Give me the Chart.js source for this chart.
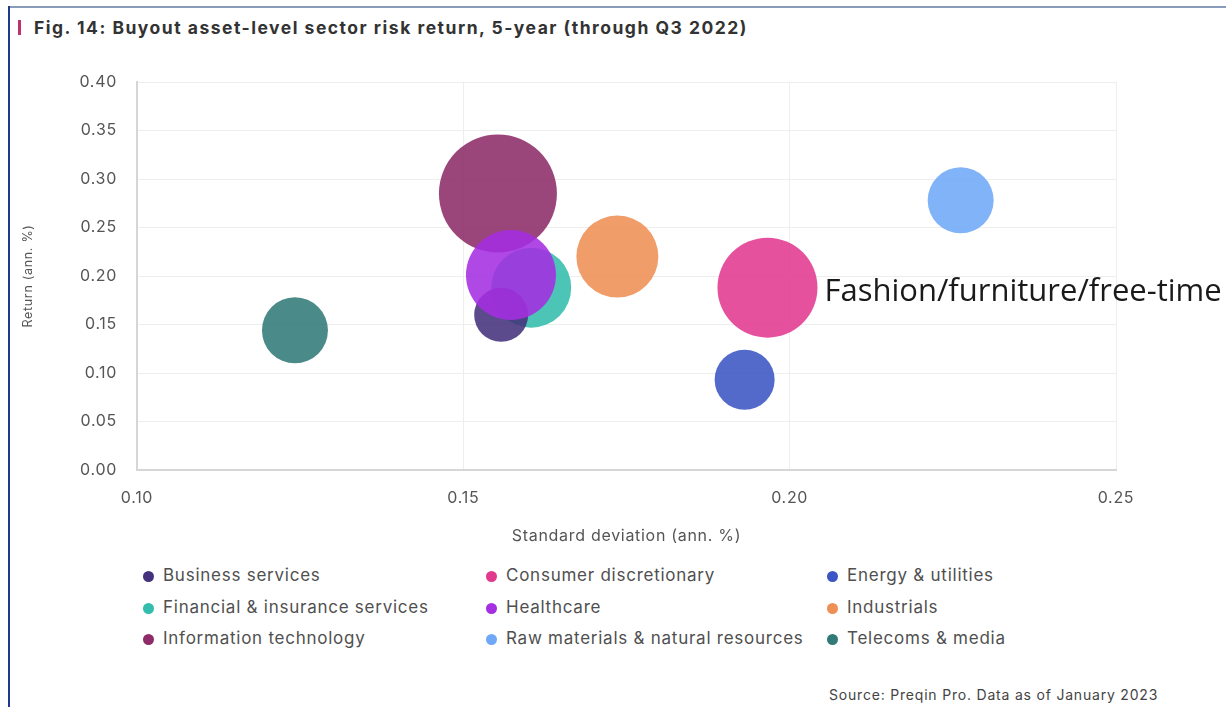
<!DOCTYPE html>
<html>
<head>
  <title>Buyout sector risk return</title>
  <script src="https://cdn.jsdelivr.net/npm/chart.js"></script>
  <style>
    body {
      margin: 0;
      width: 1226px;
      height: 707px;
      background: #fff;
      font-family: 'Inter', sans-serif;
      color: #444;
      overflow: hidden;
      position: relative;
    }

    .frame-top {
      position: absolute;
      left: 8px; right: 0; top: 6px;
      height: 2px;
      background: #8a9abb;
    }

    .frame-left {
      position: absolute;
      left: 8px; top: 6px; bottom: 0;
      width: 2px;
      background: #1f3a8a;
    }

    .title {
      position: absolute;
      left: 18px;
      top: 17px;
      font-size: 17.5px;
      font-weight: 700;
      letter-spacing: 1.5px;
      color: #333;
      white-space: nowrap;
    }

    .title .bar {
      display: inline-block;
      width: 3px;
      height: 15px;
      background: #c0306e;
      margin-right: 13px;
      vertical-align: -1px;
    }

    #chart-wrap {
      position: absolute;
      left: 0;
      top: 0;
      width: 1226px;
      height: 560px;
    }

    .legend {
      position: absolute;
      top: 563px;
      left: 143px;
    }

    .legend .item {
      position: absolute;
      white-space: nowrap;
      font-size: 17px;
      letter-spacing: 0.75px;
      color: #505050;
      line-height: 24px;
    }

    .legend .dot {
      display: inline-block;
      width: 11px;
      height: 11px;
      border-radius: 50%;
      margin-right: 9px;
      vertical-align: -1px;
    }

    .source {
      position: absolute;
      left: 829px;
      top: 686px;
      font-size: 14px;
      letter-spacing: 0.8px;
      color: #444;
      white-space: nowrap;
    }
  </style>
</head>
<body>
  <div class="frame-top"></div>
  <div class="frame-left"></div>
  <div class="title"><span class="bar"></span>Fig. 14: Buyout asset-level sector risk return, 5-year (through Q3 2022)</div>

  <div id="chart-wrap"><canvas id="chart" width="1226" height="560"></canvas></div>

  <div class="legend" id="legend"></div>
  <div class="source">Source: Preqin Pro. Data as of January 2023</div>

  <script>
    const sectors = [
      'Business services', 'Consumer discretionary', 'Energy & utilities',
      'Financial & insurance services', 'Healthcare', 'Industrials',
      'Information technology', 'Raw materials & natural resources', 'Telecoms & media'
    ];
    const stdDev = [0.1558, 0.1966, 0.1931, 0.1604, 0.1573, 0.1736, 0.1553, 0.2262, 0.1242];
    const returns = [0.160, 0.188, 0.093, 0.188, 0.201, 0.220, 0.285, 0.278, 0.144];
    const bubbleSize = [27, 50, 30, 40, 45, 41, 59, 33, 33];
    const colors = ['#45327c', '#e2398f', '#3b55c4', '#33bdac', '#a52fe2', '#ee8f55', '#8d2c68', '#70a8f8', '#317a78'];
    // lower value sits on top
    const layer = [2, 5, 5, 3, 1, 5, 4, 5, 5];

    const xTicks = [0.10, 0.15, 0.20, 0.25];
    const yTicks = [0.00, 0.05, 0.10, 0.15, 0.20, 0.25, 0.30, 0.35, 0.40];

    const calloutSector = 'Consumer discretionary';
    const calloutText = 'Fashion/furniture/free-time';

    const withAlpha = (hex, a) => {
      const n = parseInt(hex.slice(1), 16);
      return `rgba(${n >> 16}, ${(n >> 8) & 255}, ${n & 255}, ${a})`;
    };

    // legend, three columns filled row by row
    const legend = document.getElementById('legend');
    const colX = [0, 343, 684];
    const rowY = [0, 31.5, 63];
    sectors.forEach((name, i) => {
      const el = document.createElement('div');
      el.className = 'item';
      el.style.left = colX[i % 3] + 'px';
      el.style.top = rowY[Math.floor(i / 3)] + 'px';
      el.innerHTML = `<span class="dot" style="background:${colors[i]}"></span>${name}`;
      legend.appendChild(el);
    });

    // wider tracking for the axis text
    const spacing = {
      id: 'spacing',
      beforeDraw(chart) { chart.ctx.letterSpacing = '0.7px'; }
    };

    const callout = {
      id: 'callout',
      afterDatasetsDraw(chart) {
        const i = sectors.indexOf(calloutSector);
        const pt = chart.getDatasetMeta(i).data[0];
        const ctx = chart.ctx;
        ctx.save();
        ctx.letterSpacing = '0px';
        ctx.font = '31px "Open Sans", sans-serif';
        ctx.fillStyle = '#1a1a1a';
        ctx.textBaseline = 'middle';
        ctx.fillText(calloutText, pt.x + bubbleSize[i] + 7, pt.y + 5);
        ctx.restore();
      }
    };

    const tickFont = { family: 'Inter', size: 16 };

    new Chart(document.getElementById('chart'), {
      type: 'bubble',
      data: {
        datasets: sectors.map((name, i) => ({
          label: name,
          data: [{ x: stdDev[i], y: returns[i], r: bubbleSize[i] }],
          backgroundColor: withAlpha(colors[i], 0.88),
          borderWidth: 0,
          hoverRadius: 0,
          order: layer[i]
        }))
      },
      options: {
        responsive: false,
        animation: false,
        events: [],
        layout: { padding: { top: 82, right: 110, left: 0, bottom: 0 } },
        plugins: {
          legend: { display: false },
          tooltip: { enabled: false }
        },
        scales: {
          x: {
            type: 'linear',
            min: xTicks[0],
            max: xTicks[xTicks.length - 1],
            afterBuildTicks: s => { s.ticks = xTicks.map(v => ({ value: v })); },
            afterFit: s => { s.height = 90; },
            grid: { color: '#eeeeee', drawTicks: false },
            border: { color: '#d6d6d6', width: 2 },
            ticks: { padding: 19, color: '#555', font: tickFont, callback: v => v.toFixed(2) },
            title: {
              display: true,
              text: 'Standard deviation (ann. %)',
              color: '#555',
              font: { family: 'Inter', size: 16 },
              padding: { top: 0, bottom: 14 }
            }
          },
          y: {
            type: 'linear',
            min: yTicks[0],
            max: yTicks[yTicks.length - 1],
            afterBuildTicks: s => { s.ticks = yTicks.map(v => ({ value: v })); },
            afterFit: s => { s.width = 137; },
            grid: { color: '#eeeeee', drawTicks: false },
            border: { color: '#d6d6d6', width: 2 },
            ticks: { padding: 20, color: '#555', font: tickFont, callback: v => v.toFixed(2) },
            title: {
              display: true,
              text: 'Return (ann. %)',
              color: '#555',
              font: { family: 'Inter', size: 12.5 },
              padding: { top: 21, bottom: 0 }
            }
          }
        }
      },
      plugins: [spacing, callout]
    });
  </script>
</body>
</html>
